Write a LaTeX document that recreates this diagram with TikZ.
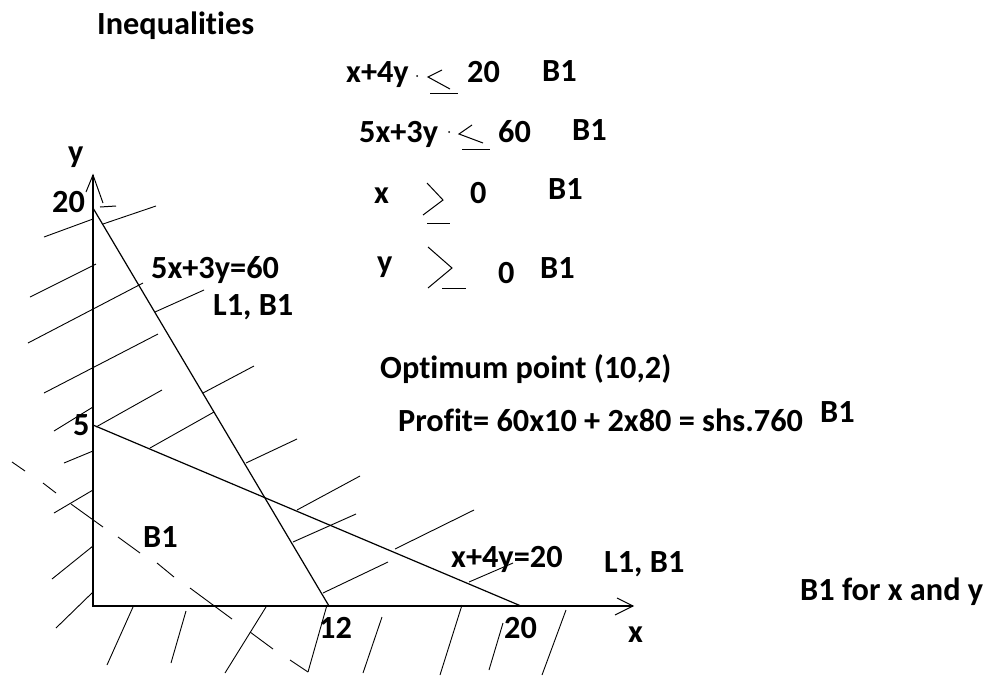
\documentclass[tikz,border=0pt]{standalone}
\usepackage{fontspec}
\setmainfont{Carlito}[Ligatures=NoCommon]
\begin{document}
\begin{tikzpicture}[x=1pt,y=-1pt,
  lbl/.style={font=\fontsize{32.3}{36}\selectfont\bfseries, inner sep=0pt, anchor=base west},
  axisline/.style={line width=1.8pt},
  cline/.style={line width=1.2pt},
  hatch/.style={line width=0.9pt},
  sym/.style={line width=1pt}]
\useasboundingbox (0,0) rectangle (990,675);
% key points
\coordinate (O) at (93,606);
\coordinate (Ytip) at (93,175);
\coordinate (Xtip) at (633,606);
\coordinate (Y20) at (93,208);
\coordinate (Y5) at (93,425);
\coordinate (X12) at (329,606);
\coordinate (X20) at (521,606);
% axes
\draw[axisline] (Ytip) -- (O) -- (Xtip);
\draw[sym] (86,192) -- (Ytip) -- (103,203);
\draw[sym] (100,207) -- (116,206);
\draw[sym] (617,598) -- (Xtip) -- (615,615);
% constraint lines
\draw[cline] (Y20) -- (X12);
\draw[cline] (Y5) -- (X20);
% hatching
\foreach \a/\b in {
  {(44,237)}/{(93,219)}, {(103,224)}/{(156,206)}, {(30,297)}/{(96,264)},
  {(28,343)}/{(143,283)}, {(155,312)}/{(204,290)}, {(44,393)}/{(158,334)},
  {(203,393)}/{(254,366)}, {(54,431)}/{(93,407)}, {(96,427)}/{(162,390)},
  {(150,448)}/{(214,412)}, {(246,463)}/{(297,439)}, {(64,463)}/{(93,451)},
  {(54,513)}/{(93,490)}, {(52,579)}/{(93,546)}, {(56,628)}/{(93,592)},
  {(297,510)}/{(360,476)}, {(293,542)}/{(356,514)}, {(395,549)}/{(474,510)},
  {(323,593)}/{(388,562)}, {(469,582)}/{(513,563)},
  {(133,607)}/{(107,665)}, {(186,611)}/{(171,663)}, {(266,607)}/{(225,673)},
  {(327,605)}/{(308,672)}, {(382,617)}/{(363,673)}, {(462,605)}/{(440,675)},
  {(503,623)}/{(489,670)}, {(566,610)}/{(542,675)}}
  \draw[hatch] \a -- \b;
% dashed line
\foreach \a/\b in {
  {(12,462)}/{(25,471)}, {(43,483)}/{(56,493)}, {(71,504)}/{(103,527)},
  {(118,537)}/{(140,553)}, {(157,563)}/{(174,577)}, {(190,588)}/{(232,619)},
  {(250,632)}/{(273,649)}, {(290,660)}/{(308,672)}}
  \draw[hatch] \a -- \b;
% axis labels
\node[lbl] (ylab) at (68,162) {y};
\node[lbl] (l20y) at (52,212) {20};
\node[lbl] (l5y) at (73,435) {5};
\node[lbl] (l12) at (319,638) {12};
\node[lbl] (l20x) at (504,638) {20};
\node[lbl] (xlab) at (628,642) {x};
% line labels
\node[lbl] (eq1) at (151,278) {5x+3y=60};
\node[lbl] (m1) at (213,315) {L1, B1};
\node[lbl] (eq2) at (451,567) {x+4y=20};
\node[lbl] (m2) at (604,572) {L1, B1};
\node[lbl] (breg) at (143,547) {B1};
\node[lbl] (bxy) at (800,600) {B1 for x and y};
% inequalities
\node[lbl] (title) at (97,34) {Inequalities};
\node[lbl] (r1a) at (346,82) {x+4y};
\node[lbl] (r1b) at (467,82) {20};
\node[lbl] (r1c) at (542,81) {B1};
\node[lbl] (r2a) at (359,142) {5x+3y};
\node[lbl] (r2b) at (498,142) {60};
\node[lbl] (r2c) at (572,140) {B1};
\node[lbl] (r3a) at (374,203) {x};
\node[lbl] (r3b) at (470,203) {0};
\node[lbl] (r3c) at (548,199) {B1};
\node[lbl] (r4a) at (377,272) {y};
\node[lbl] (r4b) at (498,283) {0};
\node[lbl] (r4c) at (540,278) {B1};
\fill (417,76) circle (1pt);
\fill (449,132) circle (1pt);
% hand-drawn relation symbols
\draw[sym] (442,70) -- (428,77) -- (450,89);
\draw[sym] (430,93) -- (458,93);
\draw[sym] (472,125) -- (459,134) -- (483,143);
\draw[sym] (462,149) -- (490,149);
\draw[sym] (427,183) -- (443,200) -- (423,215);
\draw[sym] (427,223) -- (450,223);
\draw[sym] (428,247) -- (452,268) -- (428,288);
\draw[sym] (442,288) -- (466,288);
% optimum
\node[lbl] (opt) at (380,378) {Optimum point (10,2)};
\node[lbl] (prof) at (398,431) {Profit= 60x10 + 2x80 = shs.760};
\node[lbl] (bp) at (820,422) {B1};
\end{tikzpicture}
\end{document}
